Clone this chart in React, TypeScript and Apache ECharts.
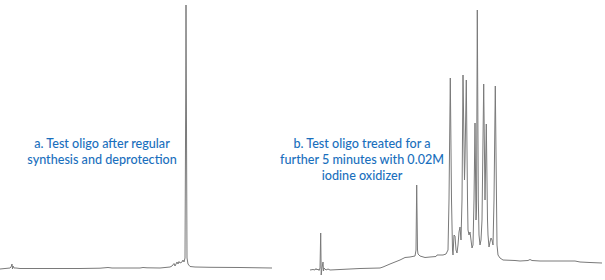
import React, { useEffect, useRef } from "react";
import * as echarts from "echarts";

// Chromatogram a: [retention time (min), absorbance (mAU)]
const traceA: [number, number][] = [
  [0, 1], [0.5, 1.5], [1.0, 2], [1.1, 3], [1.2, 6], [1.25, 1], [1.3, 4], [1.4, 2],
  [1.6, 2], [2.0, 1.5], [4.0, 1.5], [6.0, 1.5], [8.0, 1.5], [10.0, 1.8], [10.8, 2.5],
  [11.2, 2], [14.0, 2], [14.3, 2.5], [14.7, 2.2], [16.0, 2], [16.5, 2.5], [17.0, 3],
  [17.2, 4], [17.4, 6.5], [17.5, 4], [17.7, 8], [17.8, 6], [17.9, 8.5], [18.0, 7],
  [18.2, 8], [18.3, 10], [18.4, 8], [18.5, 12], [18.57, 170], [18.6, 265], [18.64, 170],
  [18.7, 12], [18.8, 6], [19.0, 3.5], [19.5, 3], [21.0, 2.7], [24.0, 2.5], [27.2, 2],
];

// Chromatogram b: [retention time (min), absorbance (mAU)]
const traceB: [number, number][] = [
  [1.0, 0], [1.3, 0.5], [1.5, 0], [1.6, 1.5], [1.7, 0], [1.8, 1], [1.9, -0.5], [2.0, 2],
  [2.07, 37], [2.12, -5], [2.2, 2], [2.3, 8], [2.35, -1], [2.4, 2], [2.6, 0], [2.8, 1],
  [3.0, 0], [4.0, 0.5], [6.0, 1.5], [8.0, 2], [8.3, 3], [9.0, 6], [10.0, 10], [10.5, 12.5],
  [11.0, 13], [11.5, 14], [11.6, 20], [11.67, 85], [11.75, 20], [11.8, 16], [12.0, 14],
  [12.5, 12.5], [13.0, 13], [13.6, 13.5], [13.7, 15], [14.3, 15], [14.6, 16], [14.8, 20],
  [14.9, 70], [15.03, 192], [15.15, 70], [15.25, 20], [15.3, 15], [15.4, 35], [15.5, 34],
  [15.6, 20], [15.7, 17], [15.8, 25], [15.9, 38], [16.0, 43], [16.1, 30], [16.2, 70],
  [16.3, 195], [16.45, 90], [16.5, 110], [16.63, 190], [16.75, 70], [16.8, 40], [16.9, 35],
  [17.0, 38], [17.1, 30], [17.2, 22], [17.3, 25], [17.4, 70], [17.5, 147], [17.6, 50],
  [17.65, 60], [17.73, 260], [17.83, 70], [17.9, 35], [18.0, 25], [18.1, 30], [18.2, 50],
  [18.37, 186], [18.5, 70], [18.63, 146], [18.75, 50], [18.8, 35], [18.9, 23], [19.0, 28],
  [19.1, 32], [19.2, 30], [19.3, 25], [19.4, 70], [19.53, 184], [19.65, 70], [19.7, 25],
  [19.8, 15], [20.0, 12], [20.3, 10], [21.5, 9.5], [22.0, 9], [22.8, 9.5], [23.0, 10.5],
  [23.2, 9.5], [24.0, 9], [27.5, 9], [28.0, 8], [29.0, 7.5], [30.2, 7],
];

const labelA = ["a. Test oligo after regular", "synthesis and deprotection"];
const labelB = ["b. Test oligo treated for a", "further 5 minutes with 0.02M", "iodine oxidizer"];

const LINE = "#7a7a7a";
const BLUE = "#1a6fbd";
const FONT = "Lato";

export default function App() {
  const ref = useRef<HTMLDivElement>(null);
  useEffect(() => {
    if (!ref.current) return;
    const chart = echarts.init(ref.current, undefined, { renderer: "svg" });
    const lineH = 16;
    const makeText = (lines: string[], cx: number, firstY: number) =>
      lines.map((t, i) => ({
        type: "text",
        x: cx,
        y: firstY + i * lineH,
        style: {
          text: t,
          fill: BLUE,
          font: `500 12.6px ${FONT}`,
          textAlign: "center",
          textVerticalAlign: "middle",
        },
      }));
    chart.setOption({
      animation: false,
      grid: [
        { left: 0, top: 0, width: 275, height: 280 },
        { left: 300, top: 0, width: 305, height: 280 },
      ],
      xAxis: [
        { type: "value", gridIndex: 0, min: 0, max: 27.5, show: false },
        { type: "value", gridIndex: 1, min: 0, max: 30.5, show: false },
      ],
      yAxis: [
        { type: "value", gridIndex: 0, min: -10, max: 270, show: false },
        { type: "value", gridIndex: 1, min: -10, max: 270, show: false },
      ],
      series: [
        {
          type: "line",
          xAxisIndex: 0,
          yAxisIndex: 0,
          data: traceA,
          showSymbol: false,
          lineStyle: { color: LINE, width: 1 },
        },
        {
          type: "line",
          xAxisIndex: 1,
          yAxisIndex: 1,
          data: traceB,
          showSymbol: false,
          lineStyle: { color: LINE, width: 1 },
        },
      ],
      graphic: [...makeText(labelA, 102, 143), ...makeText(labelB, 362, 143)],
    });
    return () => chart.dispose();
  }, []);
  return (
    <div
      ref={ref}
      style={{ position: "absolute", left: 0, top: 0, width: 605, height: 280 }}
    />
  );
}
